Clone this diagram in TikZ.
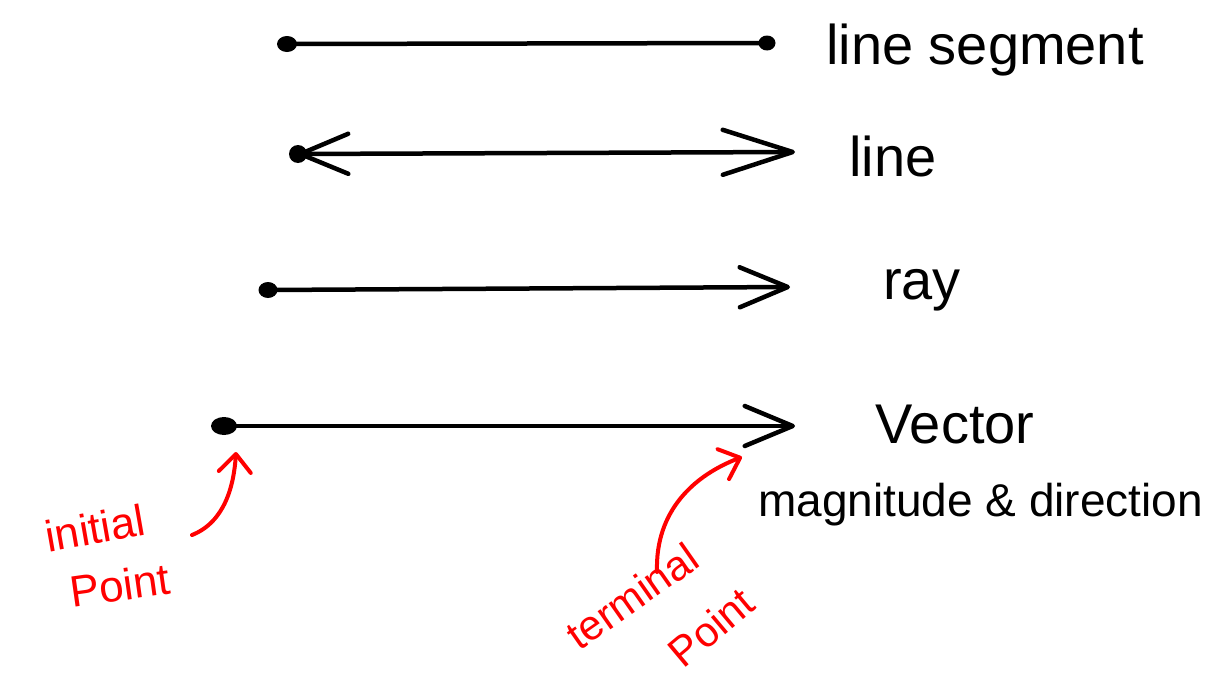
\documentclass[tikz,border=0pt]{standalone}
\usepackage{fontspec}
\setmainfont{Liberation Sans}
\usetikzlibrary{arrows.meta,shapes.geometric}
\begin{document}
\begin{tikzpicture}[x=1pt,y=-1pt,
  ink/.style={line width=4.5pt,line cap=round,line join=round},
  dot/.style={ellipse,fill=black,inner sep=0pt,minimum width=20pt,minimum height=16pt},
  barb/.style={-{Straight Barb[round,length=48pt,width=40pt]}},
  lab/.style={font=\fontsize{56}{60}\selectfont,inner sep=0pt},
  redlab/.style={font=\fontsize{44}{48}\selectfont,text=red,inner sep=0pt},
  redarrow/.style={line width=4pt,line cap=round,line join=round,draw=red,-{Straight Barb[round,length=18pt,width=32pt]}}]
\useasboundingbox (0,0) rectangle (1227,680);
% line segment
\node[dot] (s1) at (287,44) {};
\node[dot,minimum width=17pt,minimum height=15pt] (s2) at (767,43) {};
\draw[ink] (s1.center) -- (s2.center);
\node[lab] (tseg) at (985,50) {line segment};
% line
\coordinate (l1) at (298,154);
\coordinate (l2) at (795,152);
\node[dot,minimum width=18pt,minimum height=18pt] (ldot) at (l1) {};
\draw[ink,{Straight Barb[round,length=48pt,width=40pt]}-{Straight Barb[round,length=70pt,width=45pt]}] (l1) -- (l2);
\node[lab] (tline) at (893,156) {line};
% ray
\node[dot,minimum width=19pt,minimum height=16pt] (r1) at (268,290) {};
\coordinate (r2) at (790,287);
\draw[ink,barb] (r1.center) -- (r2);
\node[lab] (tray) at (922,290) {ray};
% vector
\node[dot,minimum width=26pt,minimum height=18pt] (v1) at (224,426) {};
\coordinate (v2) at (795,426);
\draw[ink,barb] (v1.center) -- (v2);
\node[lab] (tvec) at (955,425) {Vector};
\node[lab,font=\fontsize{46}{50}\selectfont,anchor=west] (tmag) at (758,505) {magnitude \& direction};
% initial point
\node[redlab,rotate=10] (tinit) at (95,528) {initial};
\node[redlab,rotate=8] (tpt1) at (120,585) {Point};
\coordinate (ia) at (192,535);
\coordinate (ib) at (236,452);
\draw[redarrow] (ia) .. controls (225,522) and (234,485) .. (ib);
% terminal point
\node[redlab,font=\fontsize{42}{46}\selectfont,rotate=35] (tterm) at (632,596) {terminal};
\node[redlab,font=\fontsize{42}{46}\selectfont,rotate=40] (tpt2) at (711,627) {Point};
\coordinate (ta) at (657,572);
\coordinate (tb) at (742,457);
\draw[redarrow] (ta) .. controls (655,510) and (695,475) .. (tb);
\end{tikzpicture}
\end{document}
